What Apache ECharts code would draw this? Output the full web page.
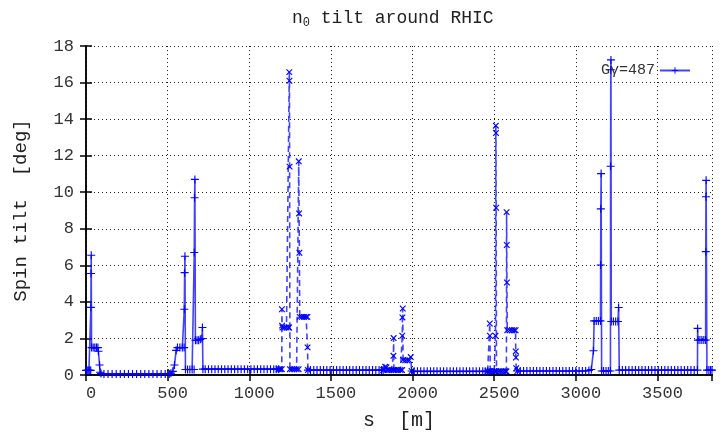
<!DOCTYPE html>
<html>
<head>
<meta charset="utf-8">
<script src="https://cdn.jsdelivr.net/npm/echarts@6/dist/echarts.min.js"></script>
<style>
  html, body { margin: 0; padding: 0; background: #fff; }
  #chart { width: 723px; height: 436px; }
</style>
</head>
<body>
<div id="chart"></div>
<script>
// [s (m), spin tilt (deg)], split where the line style changes
var arc1 = [
  [0,0.25],[6,0.25],[12,0.25],[18,0.25],[24,0.25],[29,0.25],[30,3.7],[31,5.55],[32,6.55],[34,1.5],
  [44,1.5],[54,1.5],[64,1.5],[73,1.5],[76,1.3],[83,0.55],[86,0.15],[92,0.08],
  [110,0.06],[135,0.06],[160,0.06],[185,0.06],[210,0.06],[235,0.06],[260,0.06],[285,0.06],[310,0.06],
  [335,0.06],[360,0.06],[385,0.06],[410,0.06],[435,0.06],[460,0.06],[485,0.06],[510,0.06],
  [520,0.1],[532,0.2],[542,0.55],[552,1.35],[560,1.5],[575,1.5],[590,1.5],[601,1.5],
  [602,3.6],[604,5.6],[606,6.5],[609,0.3],[622,0.3],[636,0.3],[650,0.3],[662,0.3],
  [663,6.7],[665,9.7],[667,10.7],[670,1.9],[680,1.9],[690,1.9],[700,1.95],[710,2.0],[713,2.6],[716,0.32],
  [730,0.32],[750,0.32],[770,0.32],[790,0.32],[810,0.32],[830,0.32],[850,0.32],[870,0.32],[890,0.32],
  [910,0.32],[930,0.32],[950,0.32],[970,0.32],[990,0.32],[1010,0.32],[1030,0.32],[1050,0.32],
  [1070,0.32],[1090,0.32],[1110,0.32],[1130,0.32],[1150,0.32],[1165,0.32],[1180,0.32]
];
var ir1 = [
  [1180,0.32],[1190,0.32],[1199,0.32],[1200,3.6],[1201,2.7],[1203,2.6],[1215,2.6],[1228,2.6],[1240,2.6],
  [1244,2.6],[1245,16.57],[1246,16.1],[1247,11.4],[1249,0.32],[1262,0.32],[1276,0.32],[1290,0.32],
  [1302,0.32],[1303,11.69],[1305,8.84],[1307,6.69],[1309,3.18],[1322,3.18],[1335,3.18],[1348,3.18],
  [1356,3.18],[1357,1.51],[1359,0.27]
];
var arc2 = [
  [1359,0.27],[1375,0.27],[1395,0.27],[1415,0.27],[1435,0.27],[1455,0.27],[1475,0.27],[1495,0.27],
  [1515,0.27],[1535,0.27],[1555,0.27],[1575,0.27],[1595,0.27],[1615,0.27],[1635,0.27],[1655,0.27],
  [1675,0.27],[1695,0.27],[1715,0.27],[1735,0.27],[1755,0.27],[1775,0.27],[1795,0.27],[1810,0.27],
  [1820,0.27]
];
var ir2 = [
  [1820,0.27],[1826,0.3],[1832,0.45],[1840,0.42],[1846,0.27],[1858,0.27],[1870,0.27],[1882,0.27],
  [1883,1.05],[1884,2.02],[1886,0.27],[1898,0.27],[1912,0.27],[1926,0.27],[1936,0.27],
  [1937,2.15],[1938,3.15],[1940,3.64],[1942,0.82],[1955,0.8],[1968,0.8],[1980,0.8],[1989,0.98],[1994,0.22]
];
var arc3 = [
  [1994,0.22],[2010,0.2],[2030,0.2],[2050,0.2],[2070,0.2],[2090,0.2],[2110,0.2],[2130,0.2],[2150,0.2],
  [2170,0.2],[2190,0.2],[2210,0.2],[2230,0.2],[2250,0.2],[2270,0.2],[2290,0.2],[2310,0.2],[2330,0.2],
  [2350,0.2],[2370,0.2],[2390,0.2],[2410,0.2],[2430,0.2],[2445,0.2],[2460,0.2]
];
var ir3 = [
  [2460,0.2],[2471,0.2],[2473,2.82],[2474,2.15],[2476,0.2],[2488,0.2],[2500,0.2],[2507,0.2],
  [2508,2.15],[2510,13.64],[2511,13.24],[2512,9.15],[2514,0.2],[2528,0.2],[2542,0.2],[2556,0.2],
  [2568,0.2],[2575,0.2],[2576,8.91],[2577,7.11],[2578,5.06],[2580,2.45],[2595,2.45],[2610,2.45],
  [2622,2.45],[2631,2.45],[2632,1.29],[2633,0.96],[2635,0.37],[2642,0.22]
];
var arc4 = [
  [2642,0.22],[2660,0.22],[2680,0.22],[2700,0.22],[2720,0.22],[2740,0.22],[2760,0.22],[2780,0.22],
  [2800,0.22],[2820,0.22],[2840,0.22],[2860,0.22],[2880,0.22],[2900,0.22],[2920,0.22],[2940,0.22],
  [2960,0.22],[2980,0.22],[3000,0.22],[3020,0.22],[3040,0.22],[3060,0.22],[3080,0.25],[3095,0.3],
  [3108,1.33],[3112,2.96],[3125,2.96],[3138,2.96],
  [3151,2.96],[3152,6.02],[3153,9.09],[3155,11.02],[3158,0.22],[3170,0.22],[3185,0.22],[3199,0.22],
  [3212,0.22],[3213,11.42],[3214,16.7],[3215,17.24],[3217,2.93],[3230,2.93],[3244,2.93],[3258,2.93],
  [3262,3.69],[3266,0.27],[3285,0.27],[3305,0.27],[3325,0.27],[3345,0.27],[3365,0.27],[3385,0.27],
  [3405,0.27],[3425,0.27],[3445,0.27],[3465,0.27],[3485,0.27],[3505,0.27],[3525,0.27],[3545,0.27],
  [3565,0.27],[3585,0.27],[3605,0.27],[3625,0.27],[3645,0.27],[3665,0.27],[3685,0.27],[3705,0.27],
  [3725,0.27],[3745,0.27],[3746,2.55],[3748,1.91],
  [3760,1.91],[3772,1.91],[3784,1.91],[3795,1.91],[3796,6.75],[3797,9.75],[3798,10.65],[3803,0.27],
  [3815,0.27],[3825,0.27],[3834,0.27]
];
var xTicks = { min: 0, max: 3834, interval: 500 };
var yTicks = { min: 0, max: 18, interval: 2 };
var legendName = 'G\u03b3=487';

function joinSegments(segs) {
  var out = [];
  segs.forEach(function (seg, i) {
    if (i > 0) out.push([seg[0][0], '-']);
    out = out.concat(seg);
  });
  return out;
}

var plus = 'path://M4.3,0h1.4v10h-1.4z M0,4.3h10v1.4h-10z';
var font = 'Liberation Mono';
var chart = echarts.init(document.getElementById('chart'));

var frameAxis = {
  axisLine: { show: true, lineStyle: { color: '#000', width: 1.5 } },
  axisTick: { show: true, inside: true, length: 6, lineStyle: { color: '#000', width: 1.5 } },
  axisLabel: { show: false },
  splitLine: { show: false }
};

chart.setOption({
  animation: false,
  backgroundColor: '#fff',
  title: {
    text: 'n{sub|0} tilt around RHIC',
    left: 287,
    top: 3,
    textStyle: {
      fontFamily: font, fontSize: 18, fontWeight: 'normal', color: '#222',
      rich: { sub: { fontFamily: font, fontSize: 12, color: '#222', verticalAlign: 'bottom', padding: [9, 0, 0, 0] } }
    }
  },
  legend: {
    data: [legendName],
    right: 27,
    top: 58,
    align: 'right',
    itemWidth: 30,
    itemHeight: 8,
    textStyle: { fontFamily: font, fontSize: 15, color: '#333' }
  },
  grid: { left: 86, right: 11, top: 46, bottom: 60 },
  xAxis: [
    {
      type: 'value',
      min: xTicks.min, max: xTicks.max, interval: xTicks.interval,
      name: 's  [m]',
      nameLocation: 'middle',
      nameGap: 36,
      nameTextStyle: { fontFamily: font, fontSize: 20, color: '#222' },
      axisLine: { show: true, onZero: false, lineStyle: { color: '#000', width: 1.5 } },
      axisTick: { show: true, inside: true, length: 6, lineStyle: { color: '#000', width: 1.5 } },
      axisLabel: {
        fontFamily: font, fontSize: 17, color: '#333', margin: 10, padding: [0, 0, 0, 10],
        showMaxLabel: false,
        formatter: function (v) { return String(v); }
      },
      splitLine: { show: true, lineStyle: { color: '#222', width: 1, type: [1, 3] } }
    },
    Object.assign({ type: 'value', position: 'top', min: xTicks.min, max: xTicks.max, interval: xTicks.interval }, frameAxis)
  ],
  yAxis: [
    {
      type: 'value',
      min: yTicks.min, max: yTicks.max, interval: yTicks.interval,
      name: 'Spin tilt  [deg]',
      nameLocation: 'middle',
      nameGap: 56,
      nameTextStyle: { fontFamily: font, fontSize: 19, color: '#222' },
      axisLine: { show: true, lineStyle: { color: '#000', width: 1.5 } },
      axisTick: { show: true, inside: true, length: 6, lineStyle: { color: '#000', width: 1.5 } },
      axisLabel: { fontFamily: font, fontSize: 17, color: '#333', margin: 12 },
      splitLine: { show: true, lineStyle: { color: '#222', width: 1, type: [1, 3] } }
    },
    Object.assign({ type: 'value', position: 'right', min: yTicks.min, max: yTicks.max, interval: yTicks.interval }, frameAxis)
  ],
  series: [
    {
      name: legendName,
      type: 'line',
      data: joinSegments([arc1, arc2, arc3, arc4]),
      connectNulls: false,
      symbol: plus,
      symbolSize: 8,
      showAllSymbol: true,
      color: '#0000ff',
      itemStyle: { color: '#0000ff' },
      lineStyle: { color: 'rgba(20,20,255,0.8)', width: 1.6 }
    },
    {
      name: 'ir',
      type: 'line',
      data: joinSegments([ir1, ir2, ir3]),
      connectNulls: false,
      symbol: plus,
      symbolRotate: 45,
      symbolSize: 8,
      showAllSymbol: true,
      color: '#0000ff',
      itemStyle: { color: '#0000ff' },
      lineStyle: { color: 'rgba(20,20,255,0.8)', width: 1.6, type: [6, 4] }
    }
  ]
});
</script>
</body>
</html>
